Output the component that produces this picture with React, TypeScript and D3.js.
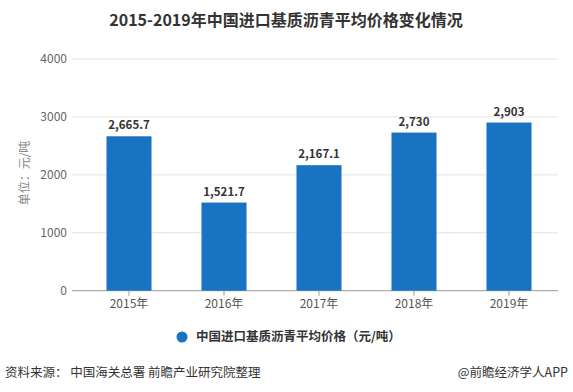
import React from 'react';
import * as d3 from 'd3';

const years = ['2015年', '2016年', '2017年', '2018年', '2019年'];
const prices = [2665.7, 1521.7, 2167.1, 2730, 2903];
const priceLabels = ['2,665.7', '1,521.7', '2,167.1', '2,730', '2,903'];
const yTicks = [0, 1000, 2000, 3000, 4000];

const W = 573, H = 392;
const font = '"Noto Sans CJK SC", "Noto Sans", sans-serif';
const barColor = '#1874c3';

export default function App() {
  // plot area
  const left = 81.5, right = 556.5, top = 59, bottom = 290.7;

  const x = d3.scaleBand().domain(years).range([left, right]).paddingInner(0.526).paddingOuter(0.263);
  const y = d3.scaleLinear().domain([0, 4000]).range([bottom, top]);

  return (
    <svg width={W} height={H} style={{ position: 'absolute', left: 0, top: 0, background: '#fff' }} fontFamily={font}>
      <rect width={W} height={H} fill="#fff" />
      <text x={286} y={26} textAnchor="middle" fontSize={16} fontWeight="bold" fill="#333">
        2015-2019年中国进口基质沥青平均价格变化情况
      </text>

      {/* grid + y labels */}
      {yTicks.map(t => (
        <g key={t}>
          <line x1={72} x2={558} y1={y(t)} y2={y(t)} stroke={t === 0 ? '#999' : '#e3e3e3'} strokeWidth={1} />
          <text x={67} y={y(t)} dy="0.35em" textAnchor="end" fontSize={12} fill="#666">{t}</text>
        </g>
      ))}

      <text transform={`translate(25,173) rotate(-90)`} textAnchor="middle" dy="0.35em" fontSize={12} fill="#888">
        单位：元/吨
      </text>

      {/* bars */}
      {years.map((yr, i) => (
        <g key={yr}>
          <rect x={x(yr)} y={y(prices[i])} width={x.bandwidth()} height={bottom - y(prices[i])} fill={barColor} />
          <text x={x(yr)! + x.bandwidth() / 2} y={y(prices[i]) - 7} textAnchor="middle" fontSize={11.5} fontWeight="bold" fill="#333">
            {priceLabels[i]}
          </text>
          <line x1={x(yr)! + x.bandwidth() / 2} x2={x(yr)! + x.bandwidth() / 2} y1={bottom} y2={bottom + 5} stroke="#999" />
          <text x={x(yr)! + x.bandwidth() / 2} y={308} textAnchor="middle" fontSize={12} fill="#555">{yr}</text>
        </g>
      ))}

      {/* legend */}
      <circle cx={182} cy={337} r={5.5} fill={barColor} />
      <text x={196} y={337} dy="0.35em" fontSize={12.5} fontWeight="bold" fill="#333">
        中国进口基质沥青平均价格（元/吨）
      </text>

      {/* footer */}
      <text x={5} y={373} dy="0.35em" fontSize={12.5} fill="#333">资料来源： 中国海关总署 前瞻产业研究院整理</text>
      <text x={568} y={373} dy="0.35em" textAnchor="end" fontSize={12.5} fill="#333">@前瞻经济学人APP</text>
    </svg>
  );
}
